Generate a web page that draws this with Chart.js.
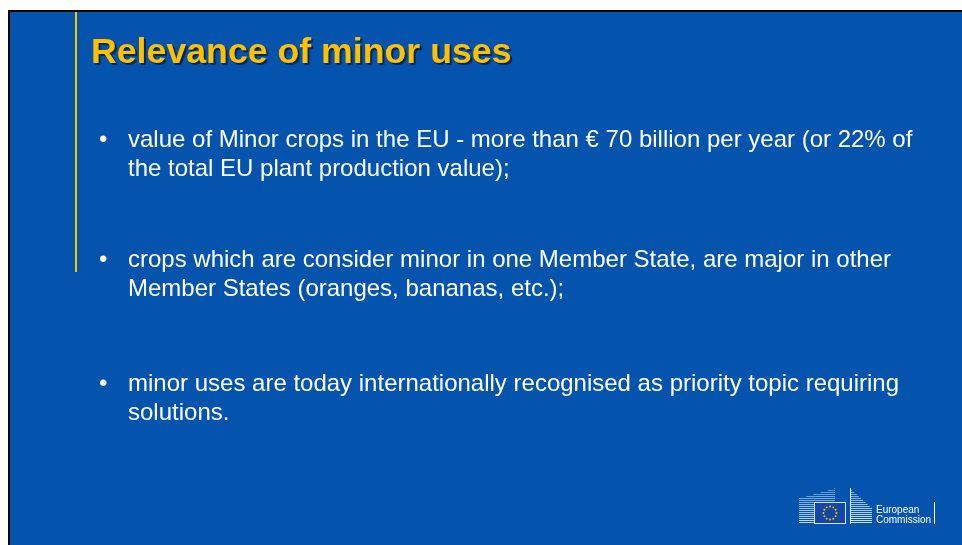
<!DOCTYPE html>
<html>
<head>
<meta charset="utf-8">
<script src="https://cdn.jsdelivr.net/npm/chart.js@4.4.1/dist/chart.umd.min.js"></script>
<style>
  html, body { margin: 0; padding: 0; background: #fff; }
  body { width: 962px; height: 545px; position: relative; overflow: hidden;
         font-family: "Liberation Sans", Arial, sans-serif; }
  #slide { position: absolute; left: 0; top: 0; width: 962px; height: 545px; }
  .title { position: absolute; left: 91px; top: 31px; font-size: 35.7px; line-height: 40px;
           font-weight: bold; color: #FFC000; white-space: nowrap;
           text-shadow: 2px 2px 1px rgba(0, 25, 70, 0.8); }
  .bullet { position: absolute; left: 128px; font-size: 24px; line-height: 29px;
            color: #fff; white-space: nowrap; }
  .bullet .dot { position: absolute; left: -29px; top: 0; }
  .logo-text { position: absolute; left: 876px; top: 504.5px; font-size: 10px; line-height: 10px;
               color: #fff; white-space: nowrap; }
</style>
</head>
<body>
<canvas id="slide" width="962" height="545"></canvas>
<div id="texts"></div>

<script>
// 标题与要点
const slideTitle = 'Relevance of minor uses';
const bulletLines = [
    ['value of Minor crops in the EU - more than € 70 billion per year (or 22% of',
     'the total EU plant production value);'],
    ['crops which are consider minor in one Member State, are major in other',
     'Member States (oranges, bananas, etc.);'],
    ['minor uses are today internationally recognised as priority topic requiring',
     'solutions.']
];
const bulletTops = [124, 244, 368];
const logoWords = ['European', 'Commission'];

// 颜色
const slideBlue = '#0454AE';
const accentYellow = '#FFC000';

// 生成文字
const texts = document.getElementById('texts');
const t = document.createElement('div');
t.className = 'title';
t.textContent = slideTitle;
texts.appendChild(t);

bulletLines.forEach(function(lines, i) {
    const b = document.createElement('div');
    b.className = 'bullet';
    b.style.top = bulletTops[i] + 'px';
    b.innerHTML = '<span class="dot">•</span>' + lines.join('<br>');
    texts.appendChild(b);
});

const lt = document.createElement('div');
lt.className = 'logo-text';
lt.innerHTML = logoWords.join('<br>');
texts.appendChild(lt);

// 背景插件：幻灯片底色、边框、黄线、徽标
const slideBackground = {
    id: 'slideBackground',
    beforeDraw: function(chart) {
        const ctx = chart.ctx;
        ctx.save();
        ctx.fillStyle = '#ffffff';
        ctx.fillRect(0, 0, 962, 545);
        // 黑色边框
        ctx.fillStyle = '#000000';
        ctx.fillRect(8, 10, 954, 535);
        // 蓝色背景
        ctx.fillStyle = slideBlue;
        ctx.fillRect(10, 12, 952, 533);
        // 黄色竖线
        ctx.fillStyle = accentYellow;
        ctx.fillRect(75, 12, 2, 260);

        // 左侧建筑条纹
        for (let y = 488; y <= 523; y += 2) {
            const x0 = 799 + Math.max(0, (498 - y)) * 3.6;
            ctx.fillStyle = 'rgba(255,255,255,' + (0.35 + (y - 488) / 80) + ')';
            ctx.fillRect(Math.min(x0, 834), y, 835 - Math.min(x0, 834), 1);
        }
        // 右侧建筑条纹
        for (let y = 488; y <= 523; y += 2) {
            const x1 = y < 508 ? 850 + (y - 488) * 1.1 : 872;
            ctx.fillStyle = 'rgba(255,255,255,' + (0.45 + (y - 488) / 90) + ')';
            ctx.fillRect(850, y, x1 - 850, 1);
        }
        ctx.fillStyle = 'rgba(255,255,255,0.9)';
        ctx.fillRect(850, 488, 1, 36);

        // 欧盟旗帜
        ctx.fillStyle = '#d9e6f5';
        ctx.fillRect(814, 502, 32, 22);
        ctx.fillStyle = '#1447a3';
        ctx.fillRect(815, 503, 30, 20);
        ctx.fillStyle = '#ffd500';
        for (let k = 0; k < 12; k++) {
            const a = k * Math.PI / 6;
            ctx.beginPath();
            ctx.arc(830 + Math.cos(a) * 6.5, 513 + Math.sin(a) * 6.5, 0.9, 0, Math.PI * 2);
            ctx.fill();
        }
        // 分隔线
        ctx.fillStyle = '#ffffff';
        ctx.fillRect(934, 502, 1, 22);
        ctx.restore();
    }
};

// 空图表，只用来承载背景
const slideChart = new Chart(document.getElementById('slide').getContext('2d'), {
    type: 'bar',
    data: { labels: [], datasets: [] },
    options: {
        responsive: false,
        animation: false,
        events: [],
        plugins: { legend: { display: false }, tooltip: { enabled: false } },
        scales: { x: { display: false }, y: { display: false } }
    },
    plugins: [slideBackground]
});
</script>
</body>
</html>
